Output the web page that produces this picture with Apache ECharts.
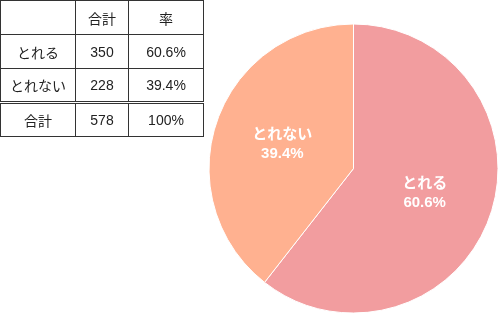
<!DOCTYPE html>
<html><head><meta charset="utf-8">
<script src="https://cdn.jsdelivr.net/npm/echarts@6/dist/echarts.min.js"></script>
<style>
html,body{margin:0;padding:0;background:#fff;}
#chart{position:absolute;left:0;top:0;width:500px;height:315px;}
#tbl{position:absolute;left:0px;top:0px;width:203px;table-layout:fixed;border-collapse:collapse;font-family:"Liberation Sans","Noto Sans CJK JP",sans-serif;font-size:14px;color:#222;}
#tbl td{border:1px solid #333;text-align:center;padding:0;height:34px;box-sizing:border-box;}
#tbl tr.total td{border-top:3px double #333;height:34px;}
</style>
</head><body>
<div id="chart"></div>
<table id="tbl"></table>
<script>
const categories = ['とれる', 'とれない'];
const counts = [350, 228];
const rates = ['60.6%', '39.4%'];
const totalLabel = '合計';
const totalCount = 578;
const totalRate = '100%';
const headers = ['', '合計', '率'];
const colors = ['#F29D9F', '#FFB190'];

// table
const tbl = document.getElementById('tbl');
const widths = [75, 53, 75];
let html = '<colgroup>' + widths.map(w=>`<col style="width:${w}px">`).join('') + '</colgroup>';
html += '<tr>' + headers.map(h=>`<td>${h}</td>`).join('') + '</tr>';
categories.forEach((c,i)=>{ html += `<tr><td>${c}</td><td>${counts[i]}</td><td>${rates[i]}</td></tr>`; });
html += `<tr class="total"><td>${totalLabel}</td><td>${totalCount}</td><td>${totalRate}</td></tr>`;
tbl.innerHTML = html;

const chart = echarts.init(document.getElementById('chart'));
chart.setOption({
  animation: false,
  series: [{
    type: 'pie',
    center: [353.5, 168.5],
    radius: [0, 144.5],
    startAngle: 90,
    clockwise: true,
    data: categories.map((c,i)=>({name:c, value:counts[i], itemStyle:{color:colors[i]}})),
    itemStyle: {borderColor:'#fff', borderWidth:1},
    label: {
      show: true, position: 'inside', color:'#fff', fontWeight:'bold', fontSize:15,
      fontFamily:'"Liberation Sans", "Noto Sans CJK JP", sans-serif', lineHeight:19,
      formatter: p => p.name + '\n' + rates[p.dataIndex]
    },
    labelLine:{show:false},
    emphasis:{disabled:true}
  }]
});
</script>
</body></html>
